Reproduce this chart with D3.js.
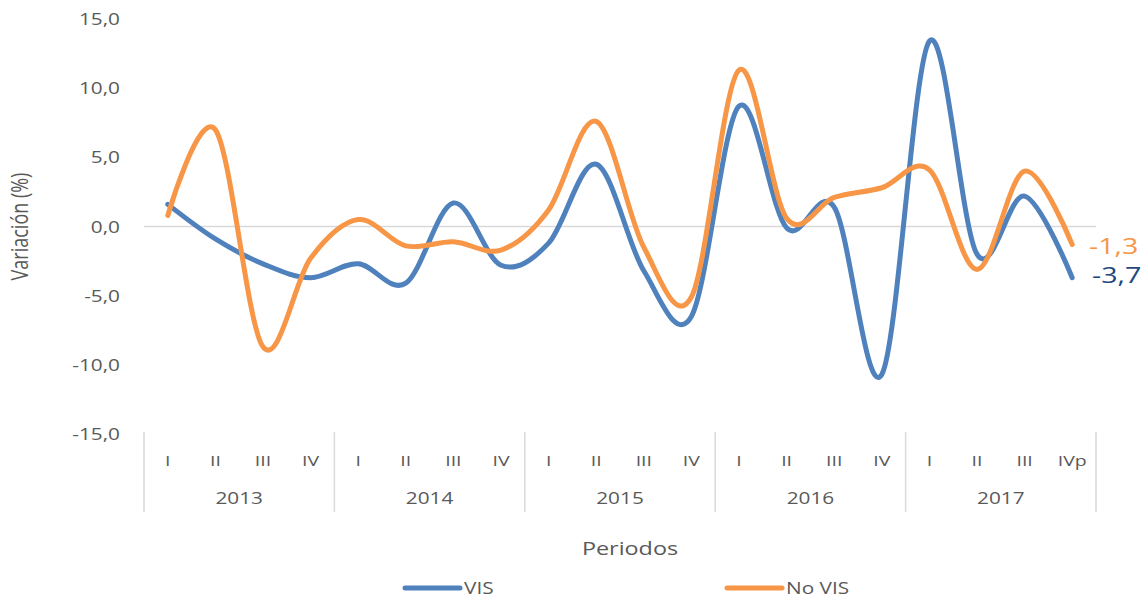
<!DOCTYPE html>
<html>
<head>
<meta charset="utf-8">
<script src="https://cdn.jsdelivr.net/npm/d3@7"></script>
<style>
  html, body { margin: 0; padding: 0; background: #fff; }
  svg { display: block; font-family: "Open Sans", sans-serif; }
</style>
</head>
<body>
<svg id="chart" width="1144" height="599"></svg>
<script>
const quarters = ["I","II","III","IV","I","II","III","IV","I","II","III","IV","I","II","III","IV","I","II","III","IVp"];
const years = ["2013","2014","2015","2016","2017"];
const visValues =   [1.6, -0.9, -2.7, -3.7, -2.7, -4.1, 1.7, -2.8, -1.2, 4.5, -3.2, -6.5, 8.7, -0.1, 1.4, -10.7, 13.4, -2.0, 2.2, -3.7];
const noVisValues = [0.8, 7.0, -8.7, -2.3, 0.5, -1.4, -1.1, -1.7, 1.2, 7.6, -1.5, -5.1, 11.3, 0.6, 2.1, 2.8, 4.1, -3.1, 4.0, -1.3];
const yTicks = [-15, -10, -5, 0, 5, 10, 15];
const seriesNames = ["VIS", "No VIS"];

const blue = "#4F81BD", orange = "#F79646", textCol = "#595959";
const SX = 1.3; // horizontal text stretch seen in reference

const svg = d3.select("#chart");
const x = d3.scaleBand().domain(d3.range(quarters.length)).range([144, 1096]);
const y = d3.scaleLinear().domain([-15, 15]).range([434, 19]);
const cx = i => x(i) + x.bandwidth() / 2;
const fmt = v => d3.format(".1f")(v).replace(".", ",").replace("−", "-");

function stretchedText(g, tx, ty, str, anchor, size, color) {
  return g.append("text")
    .attr("transform", `translate(${tx},${ty}) scale(${SX},1)`)
    .attr("text-anchor", anchor)
    .attr("font-size", size)
    .attr("fill", color)
    .text(str);
}

// zero line (horizontal axis)
svg.append("line")
  .attr("x1", 144).attr("x2", 1096)
  .attr("y1", y(0)).attr("y2", y(0))
  .attr("stroke", "#d9d9d9").attr("stroke-width", 1.5);

// y tick labels
const yg = svg.append("g");
yTicks.forEach(t => stretchedText(yg, 120, y(t) + 6, fmt(t), "end", 16, textCol));

// y-axis title
svg.append("text")
  .attr("transform", `translate(28,${y(0)}) rotate(-90) scale(1,${SX})`)
  .attr("text-anchor", "middle")
  .attr("font-size", 18)
  .attr("fill", textCol)
  .text("Variación (%)");

// category separators
const sepG = svg.append("g");
for (let k = 0; k <= years.length; k++) {
  const xi = k * 4 < quarters.length ? x(k * 4) : x(quarters.length - 1) + x.bandwidth();
  sepG.append("line")
    .attr("x1", xi).attr("x2", xi)
    .attr("y1", 432).attr("y2", 512)
    .attr("stroke", "#d9d9d9").attr("stroke-width", 1.5);
}

// quarter labels
const qg = svg.append("g");
quarters.forEach((q, i) => stretchedText(qg, cx(i), 466, q, "middle", 15, textCol));

// year labels
const yrg = svg.append("g");
years.forEach((yr, k) => {
  const mid = (x(k * 4) + x(k * 4 + 3) + x.bandwidth()) / 2;
  stretchedText(yrg, mid, 504, yr, "middle", 16, textCol);
});

// x-axis title
stretchedText(svg, 630, 555, "Periodos", "middle", 18, textCol);

// lines
const line = d3.line()
  .x((d, i) => cx(i))
  .y(d => y(d))
  .curve(d3.curveCatmullRom.alpha(0));

svg.append("path").datum(visValues)
  .attr("d", line).attr("fill", "none")
  .attr("stroke", blue).attr("stroke-width", 5)
  .attr("stroke-linecap", "round").attr("stroke-linejoin", "round");

svg.append("path").datum(noVisValues)
  .attr("d", line).attr("fill", "none")
  .attr("stroke", orange).attr("stroke-width", 5)
  .attr("stroke-linecap", "round").attr("stroke-linejoin", "round");

// end labels
const last = quarters.length - 1;
stretchedText(svg, 1089, y(noVisValues[last]) + 10, fmt(noVisValues[last]), "start", 22, orange);
stretchedText(svg, 1092, y(visValues[last]) + 5, fmt(visValues[last]), "start", 22, "#1F497D");

// legend
const legend = [
  { name: seriesNames[0], color: blue, x0: 405 },
  { name: seriesNames[1], color: orange, x0: 727 }
];
legend.forEach(l => {
  svg.append("line")
    .attr("x1", l.x0).attr("x2", l.x0 + 55)
    .attr("y1", 588).attr("y2", 588)
    .attr("stroke", l.color).attr("stroke-width", 5)
    .attr("stroke-linecap", "round");
  stretchedText(svg, l.x0 + 59, 594, l.name, "start", 16, textCol);
});
</script>
</body>
</html>
